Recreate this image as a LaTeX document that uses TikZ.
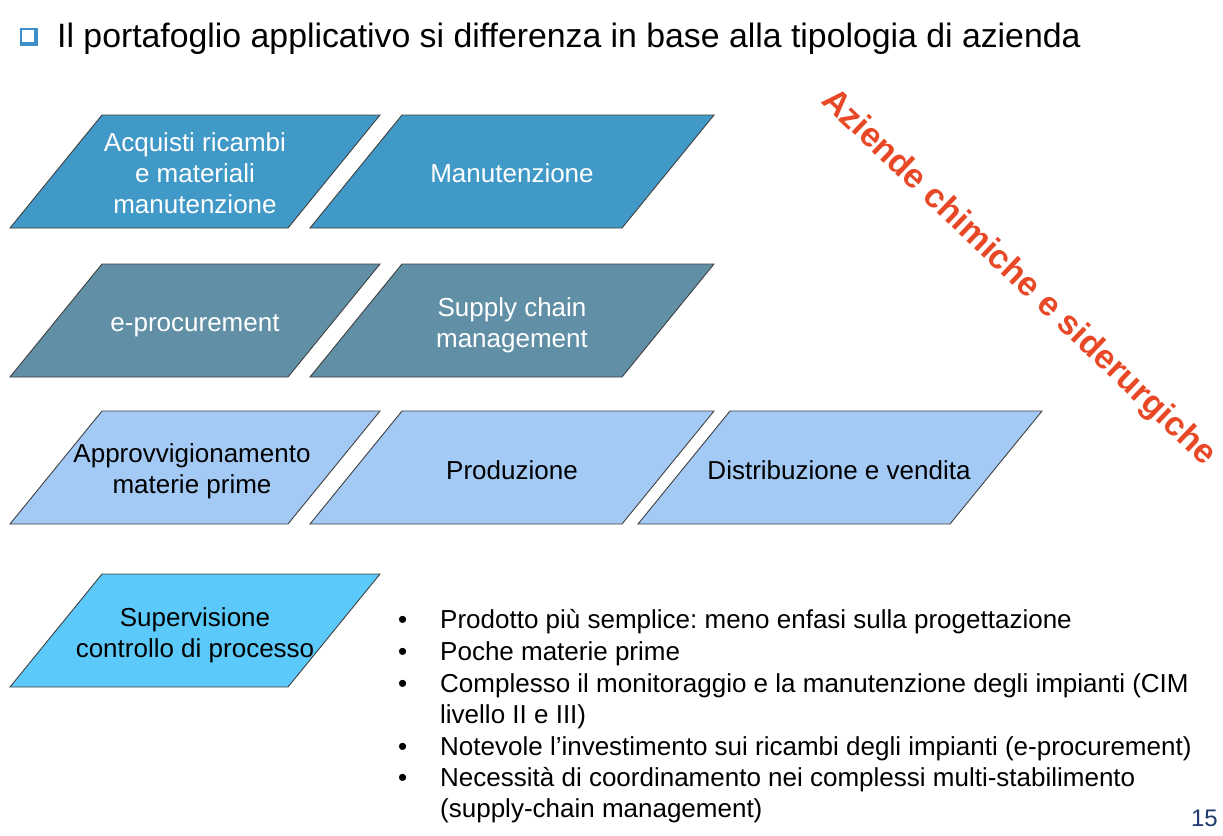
\documentclass[tikz,border=0pt]{standalone}
\usepackage{fontspec}
\setmainfont{Liberation Sans}
\begin{document}
\frenchspacing
\begin{tikzpicture}[x=1pt,y=-1pt,
  para/.style={draw=black!75,line width=0.9pt},
  lbl/.style={align=center,font=\fontsize{26}{31}\selectfont,inner sep=0pt},
  btxt/.style={anchor=base west,font=\fontsize{26}{31}\selectfont,inner sep=0pt},
  ]
\definecolor{rowA}{RGB}{65,153,200}
\definecolor{rowB}{RGB}{96,143,166}
\definecolor{rowC}{RGB}{163,201,245}
\definecolor{rowD}{RGB}{91,201,250}
\definecolor{redtxt}{RGB}{232,72,38}
\definecolor{navy}{RGB}{31,58,110}
\definecolor{iconblue}{RGB}{62,143,201}
\useasboundingbox[fill=white] (0,0) rectangle (1223,835);

% parallelogram: #1 left x of bottom edge, #2 top y, #3 width, #4 fill
\newcommand{\slab}[4]{%
  \draw[para,fill=#4] (#1+92,#2) -- (#1+92+#3,#2) -- (#1+#3,#2+113) -- (#1,#2+113) -- cycle;}

% heading
\fill[iconblue] (20,28) rectangle (38,46);
\fill[white] (22,30) rectangle (34,42);
\node[anchor=base west,inner sep=0pt,font=\fontsize{33.8}{40}\selectfont] (title) at (57,47)
  {Il portafoglio applicativo si differenza in base alla tipologia di azienda};

% row 1
\slab{10}{115}{278}{rowA}
\slab{310}{115}{312}{rowA}
\node[lbl,text=white] (acq) at (195,173) {Acquisti ricambi\\e materiali\\manutenzione};
\node[lbl,text=white] (man) at (512,173) {Manutenzione};

% row 2
\slab{10}{264}{278}{rowB}
\slab{310}{264}{312}{rowB}
\node[lbl,text=white] (eproc) at (195,326) {e-procurement};
\node[lbl,text=white] (scm) at (512,325) {Supply chain\\management};

% row 3
\slab{10}{411}{278}{rowC}
\slab{310}{411}{312}{rowC}
\slab{638}{411}{312}{rowC}
\node[lbl] (appr) at (192,471) {Approvvigionamento\\materie prime};
\node[lbl] (prod) at (512,470) {Produzione};
\node[lbl] (dist) at (839,470) {Distribuzione e vendita};

% row 4
\slab{10}{574}{278}{rowD}
\node[lbl] (sup) at (195,635) {Supervisione\\controllo di processo};

% diagonal caption
\node[rotate=-43.5,inner sep=0pt,text=redtxt,font=\fontsize{34}{40}\selectfont\bfseries] (cap) at (1018,278) {Aziende chimiche e siderurgiche};

% bullet list
\foreach \yy in {628,660,692,755,786}
  \node[btxt] at (398,\yy) {•};
\node[btxt] (b1) at (440,628) {Prodotto più semplice: meno enfasi sulla progettazione};
\node[btxt] (b2) at (440,660) {Poche materie prime};
\node[btxt] (b3) at (440,692) {Complesso il monitoraggio e la manutenzione degli impianti (CIM};
\node[btxt] (b3b) at (440,723) {livello II e III)};
\node[btxt] (b4) at (440,755) {Notevole l’investimento sui ricambi degli impianti (e-procurement)};
\node[btxt] (b5) at (440,786) {Necessità di coordinamento nei complessi multi-stabilimento};
\node[btxt] (b5b) at (440,817) {(supply-chain management)};

% page number
\node[anchor=base east,inner sep=0pt,text=navy,font=\fontsize{24}{28}\selectfont] (pg) at (1218,826) {15};
\end{tikzpicture}
\end{document}
